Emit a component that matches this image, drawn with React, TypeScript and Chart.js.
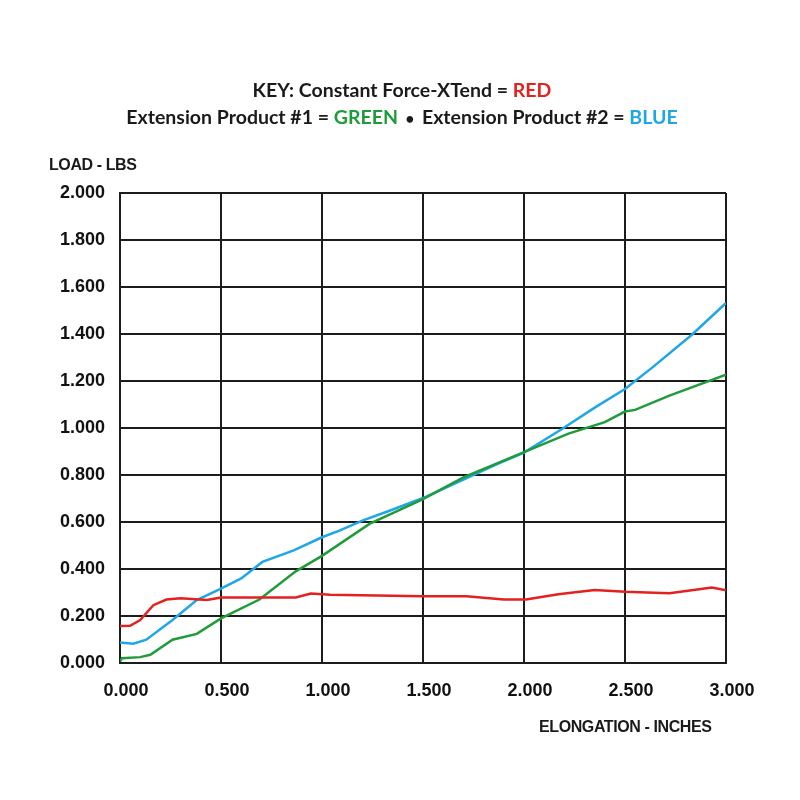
import { useEffect, useRef } from "react"
import { Chart, registerables } from "chart.js"

Chart.register(...registerables)

// elongation (inches) / load (lbs)
const redX = [0, 0.05, 0.1, 0.165, 0.23, 0.3, 0.43, 0.5, 0.87, 0.945, 1.04, 1.5, 1.715, 1.9, 2.01, 2.17, 2.35, 2.5, 2.72, 2.93, 3.0]
const redY = [0.157, 0.158, 0.183, 0.246, 0.27, 0.275, 0.268, 0.279, 0.279, 0.296, 0.29, 0.284, 0.284, 0.27, 0.27, 0.293, 0.311, 0.303, 0.297, 0.321, 0.31]

const greenX = [0, 0.01, 0.1, 0.15, 0.26, 0.38, 0.5, 0.69, 0.87, 1.0, 1.235, 1.5, 1.7, 2.0, 2.22, 2.4, 2.5, 2.55, 2.72, 3.0]
const greenY = [0.007, 0.02, 0.025, 0.035, 0.099, 0.124, 0.19, 0.27, 0.39, 0.456, 0.592, 0.697, 0.79, 0.897, 0.976, 1.025, 1.07, 1.077, 1.138, 1.227]

const blueX = [0, 0.066, 0.13, 0.26, 0.38, 0.5, 0.6, 0.705, 0.86, 1.0, 1.086, 1.2, 1.334, 1.5, 1.7, 1.864, 2.0, 2.19, 2.354, 2.5, 2.636, 2.834, 3.0]
const blueY = [0.087, 0.082, 0.099, 0.183, 0.268, 0.317, 0.36, 0.43, 0.479, 0.535, 0.563, 0.606, 0.648, 0.702, 0.78, 0.845, 0.895, 0.997, 1.089, 1.166, 1.258, 1.399, 1.532]

const seriesNames = ["Constant Force-XTend", "Extension Product #1", "Extension Product #2"]

const RED = "#e3211f"
const GREEN = "#1f9b3a"
const BLUE = "#1ea6e6"
const INK = "#1c1c1c"

const labelFont = "'Liberation Sans', Arial, sans-serif"
const titleFont = "Lato, 'Open Sans', sans-serif"

const toPoints = (xs: number[], ys: number[]) => xs.map((x, i) => ({ x, y: ys[i] }))

export default function App() {
  const canvasRef = useRef<HTMLCanvasElement | null>(null)
  const chartRef = useRef<Chart | null>(null)

  useEffect(() => {
    if (!canvasRef.current) return
    if (chartRef.current) chartRef.current.destroy()

    const line = (label: string, xs: number[], ys: number[], color: string) => ({
      label,
      data: toPoints(xs, ys),
      borderColor: color,
      backgroundColor: color,
      borderWidth: 2.5,
      pointRadius: 0,
      tension: 0,
      fill: false,
    })

    chartRef.current = new Chart(canvasRef.current, {
      type: "line",
      data: {
        datasets: [
          line(seriesNames[0], redX, redY, RED),
          line(seriesNames[1], greenX, greenY, GREEN),
          line(seriesNames[2], blueX, blueY, BLUE),
        ],
      },
      options: {
        animation: false,
        responsive: false,
        layout: { padding: { top: 193, right: 74, left: 0, bottom: 0 } },
        plugins: {
          legend: { display: false },
          tooltip: { enabled: false },
        },
        scales: {
          x: {
            type: "linear",
            min: 0,
            max: 3,
            afterFit: (s: any) => {
              s.height = 137
            },
            grid: { color: INK, lineWidth: 2, drawTicks: false },
            border: { display: true, color: INK, width: 2 },
            ticks: {
              stepSize: 0.5,
              padding: 17,
              labelOffset: 6,
              color: "#111",
              font: { family: labelFont, size: 18, weight: "bold" },
              callback: (v: any) => Number(v).toFixed(3),
            },
          },
          y: {
            min: 0,
            max: 2,
            afterFit: (s: any) => {
              s.width = 120
            },
            grid: { color: INK, lineWidth: 2, drawTicks: false },
            border: { display: true, color: INK, width: 2 },
            ticks: {
              stepSize: 0.2,
              padding: 15,
              color: "#111",
              font: { family: labelFont, size: 18, weight: "bold" },
              callback: (v: any) => Number(v).toFixed(3),
            },
          },
        },
      },
    } as any)

    return () => {
      if (chartRef.current) {
        chartRef.current.destroy()
        chartRef.current = null
      }
    }
  }, [])

  const keyLine = {
    position: "absolute" as const,
    left: 0,
    width: 804,
    textAlign: "center" as const,
    fontFamily: titleFont,
    fontWeight: 700,
    fontSize: 19.5,
    lineHeight: "20px",
    color: "#1a1a1a",
    whiteSpace: "nowrap" as const,
  }
  const axisLabel = {
    position: "absolute" as const,
    fontFamily: labelFont,
    fontWeight: 700,
    fontSize: 16,
    lineHeight: "16px",
    letterSpacing: "-0.4px",
    color: "#1a1a1a",
    whiteSpace: "nowrap" as const,
  }

  return (
    <div style={{ position: "absolute", left: 0, top: 0, width: 800, height: 800, background: "#fff" }}>
      <canvas ref={canvasRef} width={800} height={800} style={{ display: "block" }} />
      <div style={{ ...keyLine, top: 80 }}>
        KEY: {seriesNames[0]} = <span style={{ color: RED }}>RED</span>
      </div>
      <div style={{ ...keyLine, top: 107 }}>
        {seriesNames[1]} = <span style={{ color: GREEN }}>GREEN</span>
        <span style={{ fontSize: 15, padding: "0 4px" }}> • </span>
        {seriesNames[2]} = <span style={{ color: BLUE }}>BLUE</span>
      </div>
      <div style={{ ...axisLabel, left: 49, top: 157 }}>LOAD - LBS</div>
      <div style={{ ...axisLabel, left: 539, top: 719 }}>ELONGATION - INCHES</div>
    </div>
  )
}
